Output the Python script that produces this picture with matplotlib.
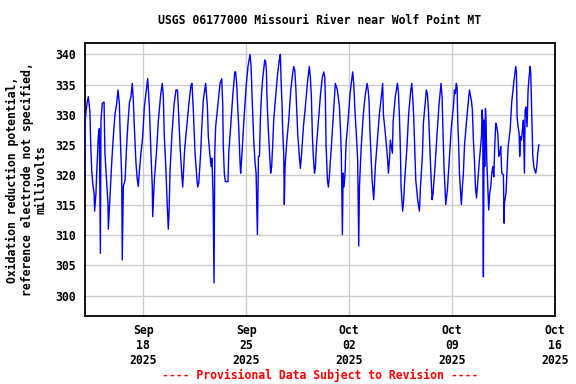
import matplotlib
matplotlib.use("Agg")
import matplotlib.pyplot as plt
import matplotlib.dates as mdates
import pandas as pd

# ---- data (days since 2025-09-14 00:00, ORP in millivolts) ----
start = "2025-09-14 00:00"
days = [
    0.02, 0.05, 0.10, 0.19, 0.26, 0.37, 0.42, 0.49, 0.56, 0.65, 0.69, 0.78, 0.83, 0.94,
    1.01, 1.08, 1.12, 1.21, 1.33, 1.39, 1.51, 1.60, 1.62, 1.73, 1.85, 1.96,
    2.07, 2.19, 2.28, 2.37, 2.44, 2.53, 2.57, 2.64, 2.76, 2.85, 2.94,
    3.05, 3.16, 3.25, 3.32, 3.39, 3.50, 3.59, 3.66, 3.73, 3.84, 3.96,
    4.07, 4.30, 4.41, 4.52, 4.61, 4.64, 4.75, 4.89,
    5.02, 5.18, 5.29, 5.36, 5.43, 5.54, 5.63, 5.70, 5.75, 5.82, 5.95,
    6.09, 6.22, 6.32, 6.38, 6.50, 6.61, 6.68, 6.81, 6.95,
    7.09, 7.24, 7.31, 7.40, 7.52, 7.65, 7.70, 7.77, 7.90, 7.97,
    8.08, 8.24, 8.36, 8.42, 8.54, 8.61, 8.67, 8.74, 8.81, 8.86, 8.92,
    9.06, 9.22, 9.33, 9.40, 9.44, 9.51, 9.58, 9.76, 9.81, 9.94,
    10.08, 10.22, 10.28, 10.35, 10.42, 10.49, 10.58, 10.62, 10.71, 10.85, 10.99,
    11.12, 11.26, 11.33, 11.39, 11.51, 11.60, 11.67, 11.76, 11.83, 11.90, 11.96,
    12.04, 12.12, 12.26, 12.32, 12.37, 12.41, 12.48, 12.55, 12.66, 12.73, 12.80, 12.87,
    13.00, 13.14, 13.25, 13.32, 13.37, 13.44, 13.48, 13.55, 13.59, 13.64, 13.75, 13.89,
    14.03, 14.16, 14.23, 14.30, 14.37, 14.44, 14.50, 14.61, 14.68, 14.75, 14.89,
    15.02, 15.16, 15.29, 15.36, 15.43, 15.50, 15.57, 15.64, 15.70, 15.77, 15.91,
    16.04, 16.16, 16.27, 16.34, 16.38, 16.43, 16.52, 16.59, 16.65, 16.79, 16.93,
    17.06, 17.20, 17.34, 17.41, 17.47, 17.54, 17.59, 17.65, 17.72, 17.79, 17.93,
    18.06, 18.24, 18.31, 18.38, 18.51, 18.58, 18.65, 18.70, 18.81, 18.95,
    19.08, 19.22, 19.29, 19.35, 19.42, 19.49, 19.56, 19.67, 19.71, 19.78, 19.92,
    20.06, 20.19, 20.28, 20.33, 20.46, 20.60, 20.67, 20.74, 20.80, 20.94, 20.99,
    21.14, 21.28, 21.35, 21.42, 21.49, 21.53, 21.64, 21.71, 21.78, 21.92,
    22.05, 22.19, 22.26, 22.32, 22.39, 22.46, 22.53, 22.66, 22.78, 22.85, 22.98,
    23.05, 23.19, 23.25, 23.32, 23.39, 23.46, 23.53, 23.64, 23.71, 23.84, 23.98,
    24.12, 24.25, 24.32, 24.39, 24.46, 24.57, 24.68, 24.82, 24.95,
    25.09, 25.16, 25.22, 25.29, 25.34, 25.39, 25.45, 25.50, 25.63, 25.70, 25.77, 25.84, 25.97,
    26.11, 26.18, 26.31, 26.38, 26.45, 26.52, 26.59, 26.66, 26.72, 26.86,
    27.00, 27.04, 27.09, 27.11, 27.13, 27.18, 27.22, 27.27, 27.31, 27.36, 27.42, 27.49,
    27.56, 27.63, 27.70, 27.77, 27.84, 27.90, 27.97,
    28.04, 28.11, 28.18, 28.25, 28.31, 28.38, 28.49, 28.54, 28.56, 28.67, 28.81, 28.95,
    29.06, 29.19, 29.33, 29.38, 29.42, 29.49, 29.56, 29.60, 29.65, 29.72, 29.78, 29.85,
    29.92, 29.97, 30.03, 30.10, 30.17, 30.24, 30.31, 30.35, 30.42, 30.49, 30.56, 30.62,
    30.69, 30.76, 30.83, 30.90,
]
orp_mv = [
    320.0, 329.0, 330.5, 332.2, 333.0, 330.5, 325.3, 320.8, 318.6, 317.0, 314.0, 317.0, 320.3, 326.4,
    327.7, 307.0, 329.1, 331.9, 332.1, 323.6, 318.6, 315.1, 311.0, 316.4, 322.0, 326.4,
    330.0, 331.9, 334.1, 331.9, 325.8, 319.7, 305.9, 318.1, 319.2, 324.2, 328.0,
    331.9, 333.0, 335.2, 332.4, 328.0, 322.0, 319.2, 318.1, 320.6, 323.6, 326.4,
    331.3, 336.0, 331.3, 323.6, 318.0, 313.1, 319.2, 323.6,
    328.9, 333.3, 335.2, 333.0, 326.4, 320.8, 314.8, 311.0, 313.7, 320.8, 326.9,
    331.6, 334.1, 334.1, 331.3, 324.7, 320.3, 318.0, 324.2, 328.0,
    331.6, 334.9, 335.2, 330.8, 323.6, 319.2, 318.0, 318.6, 323.6, 327.5,
    332.4, 335.2, 331.3, 326.4, 323.1, 321.4, 322.8, 317.0, 302.1, 323.6, 328.0,
    331.3, 335.2, 336.0, 331.9, 324.7, 320.3, 318.9, 318.9, 323.6, 328.0,
    333.0, 337.1, 337.1, 335.2, 331.3, 328.0, 322.0, 320.3, 323.6, 329.4, 334.6,
    338.0, 340.0, 338.0, 333.5, 325.8, 322.0, 320.3, 310.1, 323.1, 323.1, 329.1,
    333.5, 336.0, 339.1, 338.8, 337.4, 333.0, 328.6, 325.3, 320.3, 321.4, 325.0, 329.1,
    333.0, 336.9, 339.1, 340.0, 335.7, 331.3, 327.2, 323.6, 315.1, 321.4, 325.3, 329.1,
    334.1, 336.9, 338.0, 337.4, 334.6, 330.2, 326.9, 323.1, 321.1, 323.1, 328.0,
    331.3, 335.2, 338.0, 336.3, 333.0, 326.4, 322.8, 320.3, 321.1, 324.7, 329.1,
    333.0, 336.0, 337.1, 336.3, 333.0, 325.0, 319.2, 318.0, 319.7, 324.7, 330.2,
    335.2, 334.1, 331.3, 327.5, 323.1, 310.1, 320.3, 318.0, 320.3, 325.3, 329.1,
    333.5, 337.1, 335.2, 331.3, 325.8, 322.5, 308.2, 318.0, 324.2, 329.7,
    333.0, 335.2, 334.1, 332.4, 326.9, 323.1, 319.2, 315.9, 318.0, 321.4, 325.8,
    330.2, 333.0, 335.2, 330.0, 326.9, 323.1, 320.3, 322.5, 325.8, 323.6, 328.9,
    333.0, 335.2, 333.8, 329.7, 323.6, 318.0, 314.0, 315.9, 319.2, 324.2,
    330.2, 334.1, 335.2, 333.0, 329.7, 324.7, 319.2, 315.9, 314.0, 318.0, 323.1,
    328.6, 332.4, 334.1, 333.5, 330.8, 326.4, 322.0, 315.9, 317.0, 321.4, 326.9,
    331.9, 335.2, 333.0, 326.4, 320.8, 315.1, 317.5, 323.1, 328.0,
    331.3, 334.1, 333.5, 335.2, 334.6, 328.6, 324.7, 320.3, 315.1, 318.0, 320.3, 324.7, 328.6,
    332.4, 334.1, 332.4, 330.8, 325.8, 322.5, 318.0, 316.2, 318.0, 322.5,
    326.4, 330.8, 329.0, 310.9, 303.1, 329.1, 321.4, 331.0, 329.0, 322.5, 318.6, 314.2,
    317.0, 318.0, 320.3, 321.4, 319.7, 324.7, 328.6,
    328.0, 326.9, 323.1, 323.6, 324.7, 320.3, 320.0, 312.0, 315.3, 317.0, 324.7, 327.5,
    332.2, 335.2, 338.0, 336.9, 329.7, 328.0, 326.9, 323.1, 326.4, 325.8, 327.5, 329.1,
    320.3, 330.8, 331.3, 328.0, 334.1, 336.3, 338.0, 336.9, 329.7, 323.1, 321.4, 320.8,
    320.3, 321.4, 323.6, 325.0,
]
tick_dates = ["2025-09-18", "2025-09-25", "2025-10-02", "2025-10-09", "2025-10-16"]
y_ticks = [300, 305, 310, 315, 320, 325, 330, 335, 340]

title = "USGS 06177000 Missouri River near Wolf Point MT"
ylabel = "Oxidation reduction potential,\nreference electrode not specified,\nmillivolts"
footer = "---- Provisional Data Subject to Revision ----"

# ---- figure ----
mono = "DejaVu Sans Mono"
fs = 8.3
fig = plt.figure(figsize=(5.76, 3.84), dpi=100)
ax = fig.add_axes([84.5 / 576, 1 - 316 / 384, (555 - 84.5) / 576, (316 - 43) / 384])

times = pd.Timestamp(start) + pd.to_timedelta(days, unit="D")
ax.plot(times, orp_mv, color="#0000ff", lw=1.0, zorder=3)

ax.set_xlim(pd.Timestamp("2025-09-14"), pd.Timestamp("2025-10-16"))
ax.set_ylim(296.6, 341.9)

ax.set_xticks(pd.to_datetime(tick_dates))
ax.xaxis.set_major_formatter(mdates.DateFormatter("%b\n%d\n%Y"))
ax.set_yticks(y_ticks)

ax.grid(True, color="#cccccc", lw=1.0, zorder=0)
ax.set_axisbelow(True)
ax.tick_params(axis="both", length=0)
ax.tick_params(axis="x", pad=6)
ax.tick_params(axis="y", pad=6)
for lbl in ax.get_xticklabels():
    lbl.set_fontfamily(mono)
    lbl.set_fontweight("bold")
    lbl.set_fontsize(fs)
    lbl.set_linespacing(1.2)
for lbl in ax.get_yticklabels():
    lbl.set_fontfamily(mono)
    lbl.set_fontweight("bold")
    lbl.set_fontsize(fs)
for sp in ax.spines.values():
    sp.set_linewidth(1.3)
    sp.set_color("black")

cx = (84.5 + 555) / 2 / 576
fig.text(cx, 1 - 20 / 384, title, ha="center", va="center",
         family=mono, weight="bold", fontsize=fs)
fig.text(27 / 576, 1 - 179.5 / 384, ylabel, ha="center", va="center", rotation=90,
         family=mono, weight="bold", fontsize=fs, linespacing=1.1, multialignment="center")
fig.text(cx, 1 - 375 / 384, footer, ha="center", va="center",
         family=mono, weight="bold", fontsize=fs, color="red")

fig.savefig("out.png", dpi=100)
